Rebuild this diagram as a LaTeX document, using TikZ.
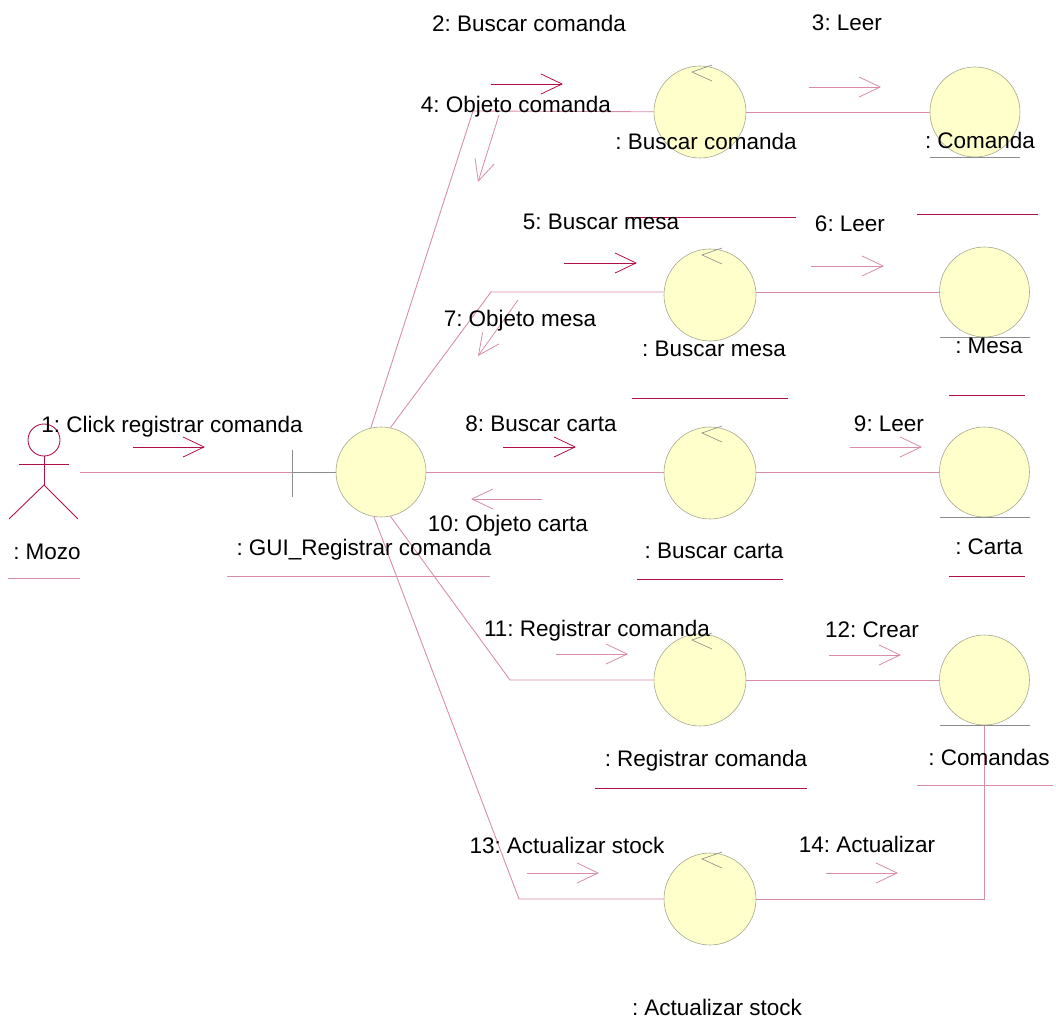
\documentclass[tikz,border=0pt]{standalone}
\usepackage{fontspec}
\setmainfont{Liberation Sans}
\frenchspacing
\usetikzlibrary{arrows.meta}
\definecolor{linedark}{HTML}{B01048}
\definecolor{linepale}{HTML}{D88CA8}
\definecolor{objfill}{HTML}{FFFFCB}
\definecolor{objedge}{HTML}{A8A890}
\tikzset{
  obj/.style={circle, draw=objedge, fill=objfill, minimum size=1.8cm, inner sep=0pt, line width=.35pt},
  ctrl/.style={obj, minimum size=1.84cm},
  txt/.style={inner sep=0pt, font=\fontsize{12.8}{15}\selectfont, text=black},
  link/.style={draw=linepale, line width=.5pt},
  msg/.style={-{Straight Barb[length=.42cm, width=.4cm, line width=.45pt]}, line width=.45pt, draw=linepale},
  msgdark/.style={msg, draw=linedark},
  under/.style={draw=linepale, line width=.5pt},
  tick/.style={draw=black!45, line width=.35pt}
}
\begin{document}
\begin{tikzpicture}[x=.02cm, y=-.02cm]
  \useasboundingbox (0,0) rectangle (1056,1030);

  \coordinate (mozo) at (80,472);
  \coordinate (bar) at (292,472);
  \coordinate (bendbc) at (473,111);
  \coordinate (bendbm) at (491,292);
  \coordinate (bendrc) at (510,680);
  \coordinate (bendas) at (519,899);
  \coordinate (bendend) at (984,899);

  \node[obj] (gui) at (381,472) {};
  \node[ctrl] (bc) at (700,112) {};
  \node[obj] (comanda) at (975,112) {};
  \node[ctrl] (bm) at (710,295) {};
  \node[obj] (mesa) at (984.5,292) {};
  \node[ctrl] (bca) at (710,473) {};
  \node[obj] (carta) at (984.5,472) {};
  \node[ctrl] (rc) at (700,680) {};
  \node[obj] (comandas) at (984.5,680) {};
  \node[ctrl] (as) at (710,899) {};

  \draw[link] (mozo) -- (bar);
  \draw[tick] (bar) -- (gui);
  \draw[tick] (292,450) -- (292,497);
  \draw[link] (gui.103) -- (bendbc) -- (bc);
  \draw[link] (gui.78) -- (bendbm) -- (bm.west |- bendbm);
  \draw[link] (gui) -- (bca.west |- gui);
  \draw[link] (gui.-78) -- (bendrc) -- (rc);
  \draw[link] (gui.-99) -- (bendas) -- (as);
  \draw[link] (bc) -- (comanda);
  \draw[link] (bm.east |- mesa) -- (mesa);
  \draw[link] (bca.east |- carta) -- (carta);
  \draw[link] (rc) -- (comandas);
  \draw[link] (as) -- (bendend) -- (bendend |- comandas.south);

  \foreach \n in {bc, bm, bca, rc, as} {
    \draw[tick] ([shift={(12,-47)}]\n.center) -- ([shift={(-8,-40)}]\n.center) -- ([shift={(12,-31)}]\n.center);
  }
  \foreach \n in {comanda, mesa, carta, comandas} {
    \draw[tick] ([shift={(-45,45)}]\n.center) -- ([shift={(45,45)}]\n.center);
  }

  \draw[draw=linedark, line width=.5pt] (44,440) circle (16);
  \draw[draw=linedark, line width=.5pt] (44,456) -- (44,485);
  \draw[draw=linedark, line width=.5pt] (19,464) -- (69,464);
  \draw[draw=linedark, line width=.5pt] (9,519) -- (44,485) -- (78,519);

  \foreach \name/\xa/\ya/\xb/\yb in {m1/133/447/205/447, m2/491/84/563/84, m5/564/263/637/263, m8/503/447/576/447} {
    \coordinate (\name a) at (\xa,\ya);
    \coordinate (\name b) at (\xb,\yb);
    \draw[msgdark] (\name a) -- (\name b);
  }
  \foreach \name/\xa/\ya/\xb/\yb in {m3/809/87/881/87, m4/499/115/478/182, m6/811/266/884/266, m7/518/300/478/356, m9/850/447/922/447, m10/542/499/471/499, m11/556/654/628/654, m12/829/655/901/655, m13/527/873/599/873, m14/826/873/898/873} {
    \coordinate (\name a) at (\xa,\ya);
    \coordinate (\name b) at (\xb,\yb);
    \draw[msg] (\name a) -- (\name b);
  }

  \draw[under] (8,578) -- (80,578);
  \draw[under] (227,576) -- (490,576);
  \draw[under, draw=linedark] (627,217) -- (796,217);
  \draw[under, draw=linedark] (917,214) -- (1038,214);
  \draw[under, draw=linedark] (632,398) -- (788,398);
  \draw[under, draw=linedark] (949,395) -- (1025,395);
  \draw[under, draw=linedark] (637,579) -- (783,579);
  \draw[under, draw=linedark] (949,576) -- (1025,576);
  \draw[under, draw=linedark] (595,788) -- (807,788);
  \draw[under] (917,785) -- (1053,785);

  \node[txt] (t1) at (172,427) {1: Click registrar comanda};
  \node[txt] (t2) at (529,23) {2: Buscar comanda};
  \node[txt] (t3) at (847,23) {3: Leer};
  \node[txt] (t4) at (516,107) {4: Objeto comanda};
  \node[txt] (t5) at (601,222) {5: Buscar mesa};
  \node[txt] (t6) at (850,224) {6: Leer};
  \node[txt] (t7) at (520,321) {7: Objeto mesa};
  \node[txt] (t8) at (541,424) {8: Buscar carta};
  \node[txt] (t9) at (889,424) {9: Leer};
  \node[txt] (t10) at (508,526) {10: Objeto carta};
  \node[txt] (t11) at (597,631) {11: Registrar comanda};
  \node[txt] (t12) at (872,630) {12: Crear};
  \node[txt] (t13) at (567,845) {13: Actualizar stock};
  \node[txt] (t14) at (867,844) {14: Actualizar};

  \node[txt] (lmozo) at (47,552) {: Mozo};
  \node[txt] (lgui) at (364,550) {: GUI\_Registrar comanda};
  \node[txt] (lbc) at (706,141) {: Buscar comanda};
  \node[txt] (lcomanda) at (980,140) {: Comanda};
  \node[txt] (lbm) at (714,349) {: Buscar mesa};
  \node[txt] (lmesa) at (989,346) {: Mesa};
  \node[txt] (lbca) at (714,551) {: Buscar carta};
  \node[txt] (lcarta) at (989,547) {: Carta};
  \node[txt] (lrc) at (706,761) {: Registrar comanda};
  \node[txt] (lcomandas) at (989,757) {: Comandas};
  \node[txt] (las) at (717,1007) {: Actualizar stock};
\end{tikzpicture}
\end{document}
